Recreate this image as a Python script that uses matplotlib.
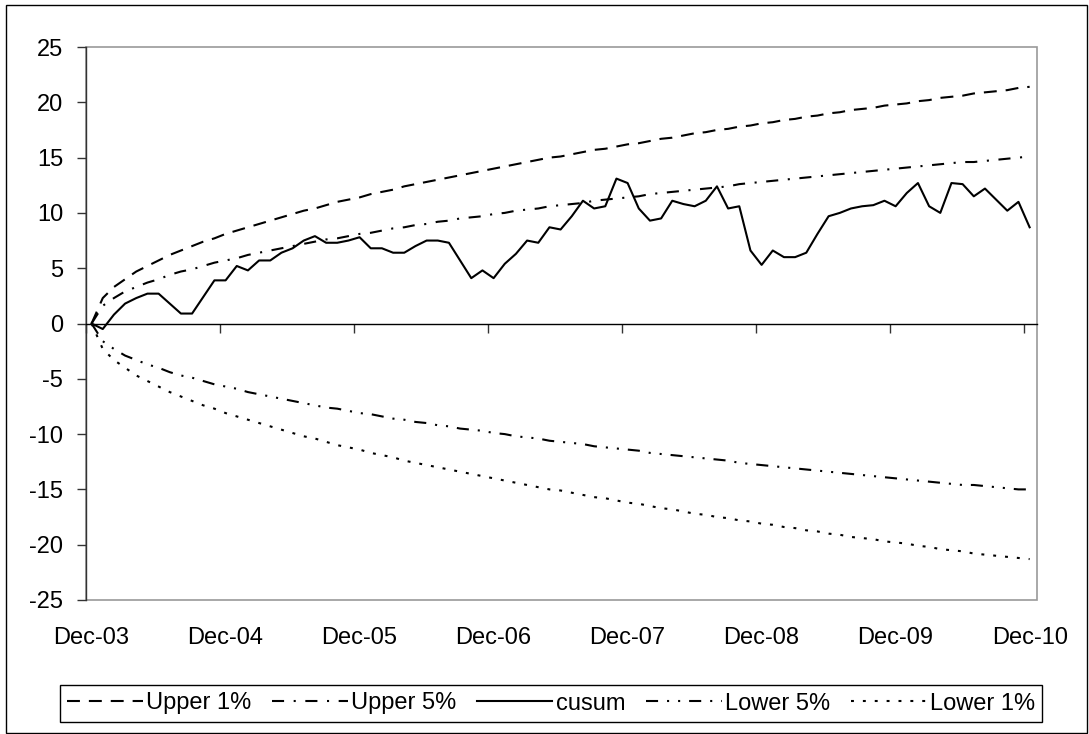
import matplotlib
matplotlib.use("Agg")
import matplotlib.pyplot as plt
from matplotlib.patches import Rectangle
from matplotlib.transforms import blended_transform_factory

# Monthly data, Dec-03 .. Dec-10 (85 points)
cusum = [0.0, -0.5, 0.8, 1.8, 2.3, 2.7, 2.7, 1.8, 0.9, 0.9,
         2.4, 3.9, 3.9, 5.2, 4.8, 5.7, 5.7, 6.4, 6.8, 7.5,
         7.9, 7.3, 7.3, 7.5, 7.8, 6.8, 6.8, 6.4, 6.4, 7.0,
         7.5, 7.5, 7.3, 5.7, 4.1, 4.8, 4.1, 5.4, 6.3, 7.5,
         7.3, 8.7, 8.5, 9.7, 11.1, 10.4, 10.6, 13.1, 12.7, 10.4,
         9.3, 9.5, 11.1, 10.8, 10.6, 11.1, 12.4, 10.4, 10.6, 6.6,
         5.3, 6.6, 6.0, 6.0, 6.4, 8.1, 9.7, 10.0, 10.4, 10.6,
         10.7, 11.1, 10.6, 11.8, 12.7, 10.6, 10.0, 12.7, 12.6, 11.5,
         12.2, 11.2, 10.2, 11.0, 8.7]

upper_1 = [0.0, 2.3, 3.3, 4.0, 4.7, 5.2, 5.7, 6.2, 6.6, 7.0,
           7.4, 7.7, 8.1, 8.4, 8.7, 9.0, 9.3, 9.6, 9.9, 10.2,
           10.4, 10.7, 11.0, 11.2, 11.4, 11.7, 11.9, 12.1, 12.4, 12.6,
           12.8, 13.0, 13.2, 13.4, 13.6, 13.8, 14.0, 14.2, 14.4, 14.6,
           14.8, 15.0, 15.1, 15.3, 15.5, 15.7, 15.8, 16.0, 16.2, 16.3,
           16.5, 16.7, 16.8, 17.0, 17.2, 17.3, 17.5, 17.6, 17.8, 17.9,
           18.1, 18.2, 18.4, 18.5, 18.7, 18.8, 19.0, 19.1, 19.3, 19.4,
           19.5, 19.7, 19.8, 19.9, 20.1, 20.2, 20.4, 20.5, 20.6, 20.8,
           20.9, 21.0, 21.1, 21.3, 21.4]

upper_5 = [0.0, 1.6, 2.3, 2.9, 3.3, 3.7, 4.0, 4.4, 4.7, 4.9,
           5.2, 5.5, 5.7, 5.9, 6.2, 6.4, 6.6, 6.8, 7.0, 7.2,
           7.4, 7.6, 7.7, 7.9, 8.1, 8.2, 8.4, 8.6, 8.7, 8.9,
           9.0, 9.2, 9.3, 9.5, 9.6, 9.7, 9.9, 10.0, 10.2, 10.3,
           10.4, 10.6, 10.7, 10.8, 10.9, 11.1, 11.2, 11.3, 11.4, 11.5,
           11.7, 11.8, 11.9, 12.0, 12.1, 12.2, 12.3, 12.4, 12.6, 12.7,
           12.8, 12.9, 13.0, 13.1, 13.2, 13.3, 13.4, 13.5, 13.6, 13.7,
           13.8, 13.9, 14.0, 14.1, 14.2, 14.3, 14.4, 14.5, 14.6, 14.6,
           14.7, 14.8, 14.9, 15.0, 15.1]

lower_5 = [0.0, -1.6, -2.3, -2.9, -3.3, -3.7, -4.0, -4.4, -4.7, -4.9,
           -5.2, -5.5, -5.7, -5.9, -6.2, -6.4, -6.6, -6.8, -7.0, -7.2,
           -7.4, -7.6, -7.7, -7.9, -8.1, -8.2, -8.4, -8.6, -8.7, -8.9,
           -9.0, -9.2, -9.3, -9.5, -9.6, -9.7, -9.9, -10.0, -10.2, -10.3,
           -10.4, -10.6, -10.7, -10.8, -10.9, -11.1, -11.2, -11.3, -11.4, -11.5,
           -11.7, -11.8, -11.9, -12.0, -12.1, -12.2, -12.3, -12.4, -12.6, -12.7,
           -12.8, -12.9, -13.0, -13.1, -13.2, -13.3, -13.4, -13.5, -13.6, -13.7,
           -13.8, -13.9, -14.0, -14.1, -14.2, -14.3, -14.4, -14.5, -14.6, -14.6,
           -14.7, -14.8, -14.9, -15.0, -15.0]

lower_1 = [0.0, -2.3, -3.3, -4.0, -4.7, -5.2, -5.7, -6.2, -6.6, -7.0,
           -7.4, -7.7, -8.1, -8.4, -8.7, -9.0, -9.3, -9.6, -9.9, -10.2,
           -10.4, -10.7, -11.0, -11.2, -11.4, -11.7, -11.9, -12.1, -12.4, -12.6,
           -12.8, -13.0, -13.2, -13.4, -13.6, -13.8, -14.0, -14.2, -14.4, -14.6,
           -14.8, -15.0, -15.1, -15.3, -15.5, -15.7, -15.8, -16.0, -16.2, -16.3,
           -16.5, -16.7, -16.8, -17.0, -17.2, -17.3, -17.5, -17.6, -17.8, -17.9,
           -18.1, -18.2, -18.4, -18.5, -18.7, -18.8, -19.0, -19.1, -19.3, -19.4,
           -19.5, -19.7, -19.8, -19.9, -20.1, -20.2, -20.4, -20.5, -20.6, -20.8,
           -20.9, -21.0, -21.1, -21.2, -21.3]

year_labels = ["Dec-03", "Dec-04", "Dec-05", "Dec-06",
               "Dec-07", "Dec-08", "Dec-09", "Dec-10"]

months = list(range(len(cusum)))

plt.rcParams["font.family"] = ["Liberation Sans", "DejaVu Sans"]
plt.rcParams["font.size"] = 17
plt.rcParams["axes.unicode_minus"] = False  # plain hyphen like Excel

W, H = 1089, 734
fig = plt.figure(figsize=(W / 100, H / 100), dpi=100)
ax = fig.add_axes([86 / W, 1 - 600 / H, (1037 - 86) / W, (600 - 47) / H])

lw = 1.5
ax.plot(months, upper_1, color="black", lw=lw, linestyle=(0, (6.2, 4.3)), label="Upper 1%")
ax.plot(months, upper_5, color="black", lw=lw, linestyle=(0, (5.8, 4.6, 1, 4.6)), label="Upper 5%")
ax.plot(months, cusum, color="black", lw=lw, label="cusum")
ax.plot(months, lower_5, color="black", lw=lw,
        linestyle=(0, (5.8, 4.3, 1, 4.3, 1, 4.3)), label="Lower 5%")
ax.plot(months, lower_1, color="black", lw=lw, linestyle=(0, (1.4, 4.3)), label="Lower 1%")

ax.set_xlim(-0.5, 84.66)
ax.set_ylim(-25, 25)
ax.set_yticks(range(-25, 30, 5))

# x axis crosses at zero, plot area border in grey
ax.spines["bottom"].set_position(("data", 0))
ax.spines["bottom"].set_color("black")
ax.spines["bottom"].set_linewidth(1)
ax.spines["left"].set_color("#333333")
ax.spines["left"].set_linewidth(1)
ax.spines["top"].set_visible(False)
ax.spines["right"].set_visible(False)
ax.add_patch(Rectangle((0, 0), 1, 1, transform=ax.transAxes, fill=False,
                       edgecolor="#999999", lw=1.2, clip_on=False, zorder=1))

ax.set_xticks([12 * k - 0.5 for k in range(len(year_labels))])
ax.tick_params(axis="x", direction="out", length=6.5, width=1, color="#333333",
               labelbottom=False)
ax.tick_params(axis="y", direction="out", length=6.5, width=1, color="#333333", pad=10)

# year labels sit below the plot area
trans = blended_transform_factory(ax.transData, ax.transAxes)
for k, lab in enumerate(year_labels):
    ax.text(12 * k, -0.069, lab, transform=trans, ha="center", va="center")

leg = ax.legend(loc="center", ncol=5, mode="expand",
                bbox_to_anchor=(60 / W, 1 - 725 / H, 982 / W, 43 / H),
                bbox_transform=fig.transFigure, borderaxespad=0,
                handlelength=3.2, handletextpad=0.15, columnspacing=0.6,
                borderpad=0.3, fancybox=False, edgecolor="black", framealpha=1)
leg.get_frame().set_linewidth(1.0)

# outer chart border
fig.patches.append(Rectangle((6 / W, 1 / H), 1081 / W, 728 / H, transform=fig.transFigure,
                             fill=False, edgecolor="black", lw=1))

plt.savefig("out.png", dpi=100)
